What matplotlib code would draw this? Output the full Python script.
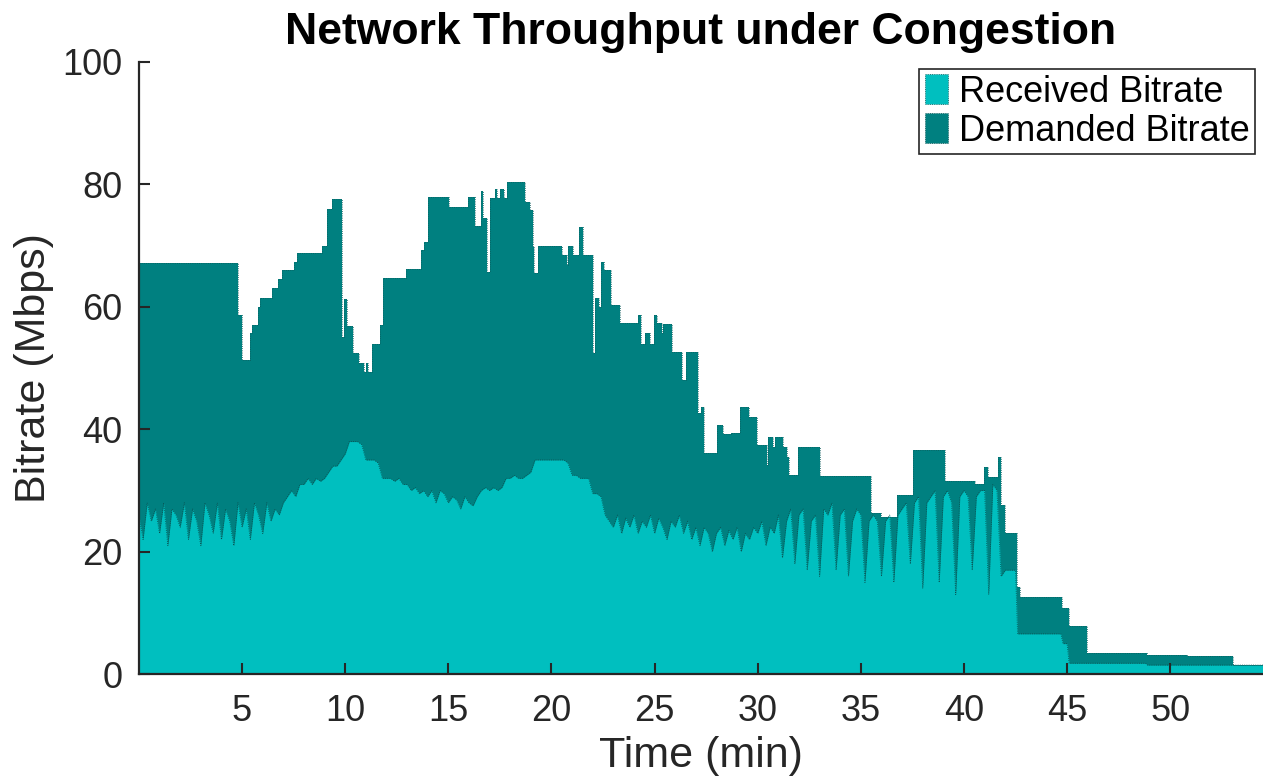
import numpy as np
import matplotlib
matplotlib.use("Agg")
from matplotlib import pyplot as plt
from matplotlib.patches import Patch

plt.rcParams['font.family'] = ['Liberation Sans', 'DejaVu Sans']

# demanded bitrate: start time of each step (min) and its level (Mbps)
dem_t = [0, 4.79, 5.01, 5.38, 5.5, 5.75, 5.88, 6.43, 6.72, 6.92, 7.53, 7.66,
         8.86, 9.1, 9.38, 9.83, 9.93, 10.07, 10.39, 10.67, 10.9, 11.0, 11.1,
         11.29, 11.69, 11.85, 12.95, 13.66, 13.82, 14.03, 15.05, 15.97, 16.29,
         16.59, 16.70, 16.89, 17.02, 17.26, 17.35, 17.51, 17.70, 17.86, 18.72,
         18.96, 19.09, 19.16, 19.37, 20.5, 20.74, 20.82, 21.06, 21.35, 21.55,
         22.0, 22.11, 22.31, 22.41, 22.55, 22.87, 23.33, 24.21, 24.33, 24.54,
         24.78, 24.98, 25.11, 25.35, 25.43, 25.83, 26.32, 26.53, 27.12, 27.24,
         27.40, 28.02, 28.34, 28.69, 29.15, 29.58, 29.99, 30.44, 30.52, 30.76,
         30.84, 31.25, 31.41, 31.54, 31.94, 33.03, 35.48, 36.0, 36.74, 37.55,
         39.09, 40.54, 40.95, 41.19, 41.67, 41.79, 42.0, 42.57, 42.73, 44.75,
         45.07, 45.96, 48.87, 50.81, 53.04, 54.5]
dem_v = [67.2, 58.7, 51.3, 55.7, 57.0, 60.0, 61.4, 63.0, 64.5, 66.0, 67.3, 68.8,
         70.0, 76.0, 77.6, 55.0, 61.3, 56.9, 52.4, 50.8, 49.3, 50.8, 49.3,
         54.0, 57.0, 64.7, 66.2, 69.3, 70.6, 77.9, 76.3, 77.9, 73.2,
         79.0, 74.5, 65.7, 77.8, 79.2, 77.8, 79.2, 77.8, 80.4, 77.1,
         75.8, 69.8, 65.5, 70.0, 68.5, 66.8, 70.0, 68.5, 73.0, 68.5,
         52.4, 61.4, 60.0, 67.3, 66.0, 60.3, 57.3, 58.7, 54.0, 55.7,
         54.0, 58.7, 57.3, 55.7, 57.2, 52.6, 48.0, 52.6, 42.6, 43.6,
         36.1, 40.7, 39.2, 39.4, 43.6, 42.0, 37.4, 34.2, 38.7, 37.1,
         38.7, 37.1, 35.5, 32.5, 37.1, 32.3, 26.3, 25.6, 29.2, 36.6,
         31.5, 31.0, 33.8, 32.2, 35.5, 27.6, 23.0, 14.2, 12.6, 10.8,
         7.8, 3.4, 3.2, 2.9, 1.5, 1.5]

# received bitrate, one reading every 0.2 min from 0 to 42.4 min
recv_v = [26, 22, 28, 25, 27,  23, 28, 21, 27, 26,  24, 28, 22, 27, 25,
          21, 28, 26, 23, 28,  22, 27, 25, 21, 28,  24, 27, 22, 28, 26,
          23, 28, 25, 27, 26,  28, 29, 30, 29, 31,  31, 32, 31, 32, 31.5,
          32, 33, 34, 34, 35,  36, 38, 38, 38, 37.5,  35, 35, 35, 34.5, 32,
          32, 32, 31.5, 32, 31,  31, 30, 30.5, 29.5, 30,  29, 30, 28, 30, 29.5,
          28, 29, 28.5, 27, 29,  28, 27.5, 29, 30, 30.5,  30, 30.5, 30, 30.5, 32,
          32, 32.5, 32, 32, 32.5,  33, 35, 35, 35, 35,  35, 35, 35, 35, 34.5,
          32.5, 32.5, 32, 32, 32,  29.5, 29.5, 29, 26, 25,  24, 26, 23, 25.5, 24,
          26, 23, 25, 24, 26,  23, 25.5, 24, 22, 25,  24, 26, 23, 25, 22,
          24, 21, 24, 23, 20,  23, 24, 21, 23.5, 22,  24, 20, 23, 22, 24,
          23, 25, 21, 24, 23,  26, 19, 25, 27, 18,  26, 27, 17, 25, 26,
          16, 27, 26, 28, 17,  26, 27, 16, 25, 27,  26, 15, 25, 26, 25,
          16, 25, 26, 15, 26,  27, 28, 18, 28, 29,  14, 28, 29, 30, 15,
          29, 30, 28, 13, 29,  30, 29, 17, 29, 30,  30, 13, 31, 30, 16,
          17, 17, 17]
recv_tail_t = [42.5, 42.6, 44.7, 44.8, 45.0, 45.1, 48.8, 48.9, 54.5]
recv_tail_v = [17, 6.6, 6.6, 5.0, 5.0, 1.8, 1.8, 1.5, 1.5]

recv_t = np.concatenate([np.arange(len(recv_v)) * 0.2, recv_tail_t])
recv = np.concatenate([recv_v, recv_tail_v])

c_recv = '#00bfbf'
c_dem = '#008080'

fig = plt.figure(figsize=(12.63, 7.84), dpi=100)
ax = fig.add_axes([0.110, 0.140, 0.890, 0.781])

ax.fill_between(dem_t, dem_v, step='post', color=c_dem, lw=0)
ax.step(dem_t, dem_v, where='post', color='#0b5c5c', lw=0.6, ls=':')
ax.fill_between(recv_t, recv, color=c_recv, lw=0)
ax.plot(recv_t, recv, color='#0a4f4f', lw=0.6, ls=':')

ax.set_xlim(0, 54.5)
ax.set_ylim(0, 100)
ax.set_xticks([5, 10, 15, 20, 25, 30, 35, 40, 45, 50])
ax.set_yticks([0, 20, 40, 60, 80, 100])
ax.tick_params(direction='in', length=8, width=1.5, labelsize=26,
               colors='#262626', pad=12)
ax.tick_params(axis='x', pad=14)
for side in ['top', 'right']:
    ax.spines[side].set_visible(False)
for side in ['left', 'bottom']:
    ax.spines[side].set_linewidth(1.6)
    ax.spines[side].set_color('#262626')

ax.set_xlabel('Time (min)', fontsize=31, color='#262626', labelpad=5)
ax.set_ylabel('Bitrate (Mbps)', fontsize=31, color='#262626', labelpad=6)
ax.set_title('Network Throughput under Congestion', fontsize=32,
             fontweight='bold', pad=13)

handles = [Patch(facecolor=c_recv, edgecolor='#0a4f4f', ls=':', lw=0.6),
           Patch(facecolor=c_dem, edgecolor='#0a4f4f', ls=':', lw=0.6)]
leg = ax.legend(handles, ['Received Bitrate', 'Demanded Bitrate'],
                loc='upper right', bbox_to_anchor=(0.993, 0.989),
                borderaxespad=0, fontsize=26, fancybox=False,
                edgecolor='#262626', framealpha=1, handlelength=0.65,
                handleheight=0.9, handletextpad=0.3, labelspacing=0.1,
                borderpad=0.15)
leg.get_frame().set_linewidth(1.2)

fig.savefig('out.png', dpi=100)
